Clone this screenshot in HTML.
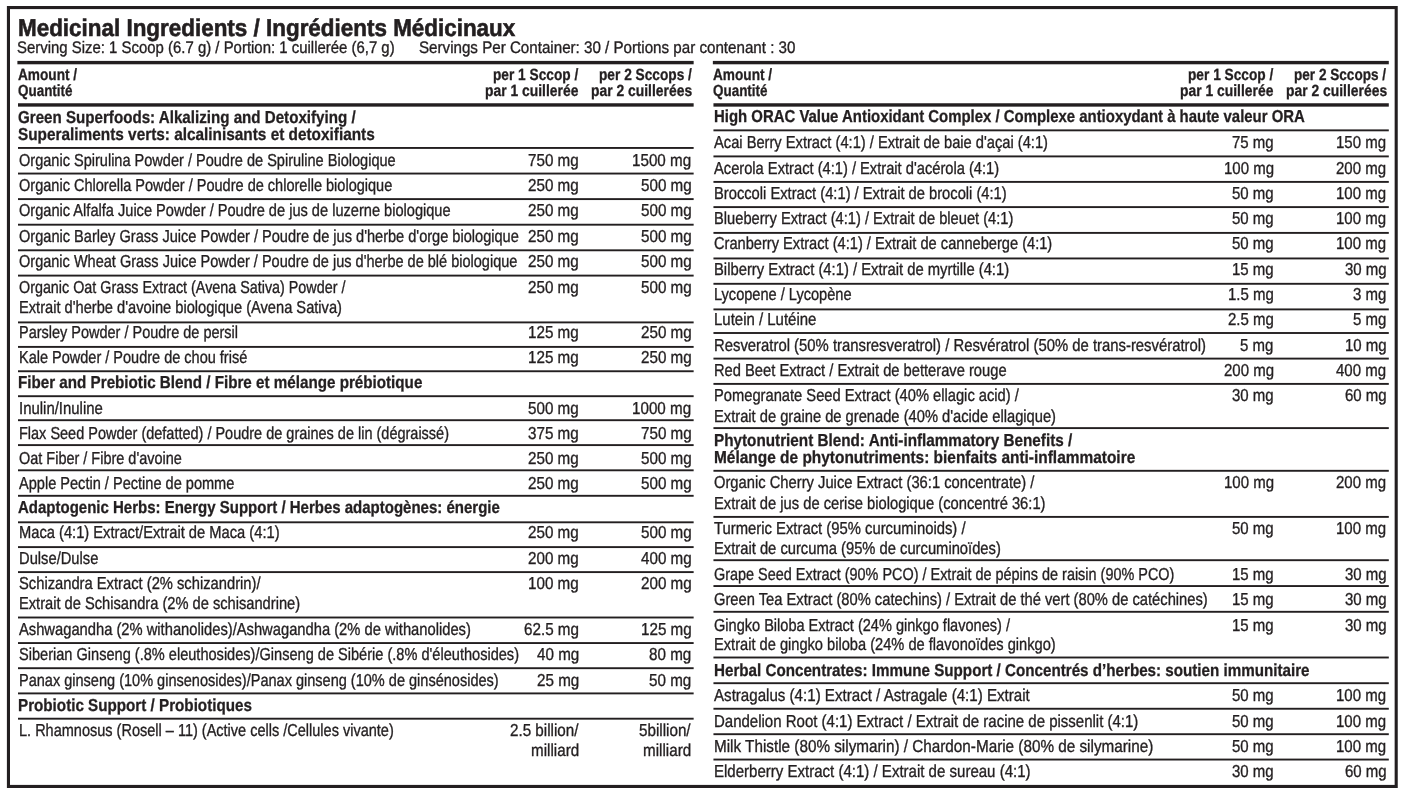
<!DOCTYPE html>
<html lang="en"><head><meta charset="utf-8"><title>Medicinal Ingredients</title>
<style>
html,body{margin:0;padding:0;background:#fff}
#page{position:relative;will-change:transform;width:1406px;height:793px;overflow:hidden;background:#fff;color:#231f20;font-family:"Liberation Sans",sans-serif;text-rendering:geometricPrecision}
.t{position:absolute;white-space:nowrap;line-height:20px;transform-origin:0 0}
#rules{position:absolute;left:0;top:0}
.title{font-size:24.2px;font-weight:700;-webkit-text-stroke:0.6px #231f20}
.serv{font-size:16.7px;font-weight:400;-webkit-text-stroke:0.35px #231f20}
.colh{font-size:16.2px;font-weight:700;-webkit-text-stroke:0.3px #231f20}
.sec{font-size:17.3px;font-weight:700;-webkit-text-stroke:0.3px #231f20}
.reg{font-size:17.3px;font-weight:400;-webkit-text-stroke:0.35px #231f20}
.amt{font-size:17.3px;font-weight:400;-webkit-text-stroke:0.35px #231f20}
</style></head>
<body><div id="page">
<svg id="rules" width="1406" height="793" viewBox="0 0 1406 793" fill="#231f20"><rect x="8.45" y="7.55" width="1387.75" height="778.9" fill="none" stroke="#231f20" stroke-width="3.1"/><rect x="17.40" y="60.90" width="676.25" height="3.40"/><rect x="18.00" y="103.25" width="675.65" height="3.40"/><rect x="18.00" y="147.00" width="675.65" height="1.90"/><rect x="18.00" y="172.60" width="675.65" height="1.90"/><rect x="18.00" y="198.15" width="675.65" height="1.90"/><rect x="18.00" y="223.75" width="675.65" height="1.90"/><rect x="18.00" y="249.35" width="675.65" height="1.90"/><rect x="18.00" y="274.65" width="675.65" height="1.90"/><rect x="18.00" y="321.45" width="675.65" height="1.90"/><rect x="18.00" y="345.95" width="675.65" height="1.90"/><rect x="18.00" y="370.30" width="675.65" height="1.90"/><rect x="18.00" y="395.25" width="675.65" height="1.90"/><rect x="18.00" y="419.25" width="675.65" height="1.90"/><rect x="18.00" y="444.15" width="675.65" height="1.90"/><rect x="18.00" y="469.35" width="675.65" height="1.90"/><rect x="18.00" y="494.85" width="675.65" height="1.90"/><rect x="18.00" y="521.35" width="675.65" height="1.90"/><rect x="18.00" y="546.15" width="675.65" height="1.90"/><rect x="18.00" y="571.15" width="675.65" height="1.90"/><rect x="18.00" y="616.55" width="675.65" height="1.90"/><rect x="18.00" y="642.10" width="675.65" height="1.90"/><rect x="18.00" y="667.25" width="675.65" height="1.90"/><rect x="18.00" y="692.45" width="675.65" height="1.90"/><rect x="18.00" y="717.75" width="675.65" height="1.90"/><rect x="712.85" y="60.90" width="675.95" height="3.40"/><rect x="713.45" y="103.25" width="675.35" height="3.40"/><rect x="713.45" y="129.40" width="675.35" height="1.90"/><rect x="713.45" y="155.45" width="675.35" height="1.90"/><rect x="713.45" y="180.95" width="675.35" height="1.90"/><rect x="713.45" y="206.15" width="675.35" height="1.90"/><rect x="713.45" y="231.95" width="675.35" height="1.90"/><rect x="713.45" y="257.50" width="675.35" height="1.90"/><rect x="713.45" y="282.85" width="675.35" height="1.90"/><rect x="713.45" y="308.45" width="675.35" height="1.90"/><rect x="713.45" y="332.05" width="675.35" height="1.90"/><rect x="713.45" y="357.65" width="675.35" height="1.90"/><rect x="713.45" y="382.95" width="675.35" height="1.90"/><rect x="713.45" y="427.15" width="675.35" height="1.90"/><rect x="713.45" y="469.85" width="675.35" height="1.90"/><rect x="713.45" y="515.95" width="675.35" height="1.90"/><rect x="713.45" y="559.25" width="675.35" height="1.90"/><rect x="713.45" y="585.10" width="675.35" height="1.90"/><rect x="713.45" y="610.85" width="675.35" height="1.90"/><rect x="713.45" y="656.55" width="675.35" height="1.90"/><rect x="713.45" y="682.25" width="675.35" height="1.90"/><rect x="713.45" y="707.80" width="675.35" height="1.90"/><rect x="713.45" y="733.25" width="675.35" height="1.90"/><rect x="713.45" y="758.60" width="675.35" height="1.90"/></svg>
<div class="t title" style="left:18.00px;top:19px;transform:scaleX(0.9273)">Medicinal Ingredients / Ingrédients Médicinaux</div>
<div class="t serv" style="left:16.80px;top:38px;transform:scaleX(0.8948)">Serving Size: 1 Scoop (6.7 g) / Portion: 1 cuillerée (6,7 g)</div>
<div class="t serv" style="left:418.60px;top:38px;transform:scaleX(0.9078)">Servings Per Container: 30 / Portions par contenant : 30</div>
<div class="t colh" style="left:17.50px;top:65px;transform:scaleX(0.8433)">Amount /</div>
<div class="t colh" style="left:17.50px;top:81px;transform:scaleX(0.8300)">Quantité</div>
<div class="t colh" style="left:492.86px;top:65px;transform:scaleX(0.8457)">per 1 Sccop /</div>
<div class="t colh" style="left:485.35px;top:81px;transform:scaleX(0.8578)">par 1 cuillerée</div>
<div class="t colh" style="left:598.76px;top:65px;transform:scaleX(0.8465)">per 2 Sccops /</div>
<div class="t colh" style="left:590.95px;top:81px;transform:scaleX(0.8577)">par 2 cuillerées</div>
<div class="t sec" style="left:18.40px;top:107px;transform:scaleX(0.8761)">Green Superfoods: Alkalizing and Detoxifying /</div>
<div class="t sec" style="left:18.40px;top:124px;transform:scaleX(0.8887)">Superaliments verts: alcalinisants et detoxifiants</div>
<div class="t reg" style="left:18.80px;top:150px;transform:scaleX(0.8414)">Organic Spirulina Powder / Poudre de Spiruline Biologique</div>
<div class="t amt" style="left:528.17px;top:150px;transform:scaleX(0.8800)">750 mg</div>
<div class="t amt" style="left:632.02px;top:150px;transform:scaleX(0.8800)">1500 mg</div>
<div class="t reg" style="left:18.80px;top:175px;transform:scaleX(0.8411)">Organic Chlorella Powder / Poudre de chlorelle biologique</div>
<div class="t amt" style="left:528.17px;top:175px;transform:scaleX(0.8800)">250 mg</div>
<div class="t amt" style="left:640.57px;top:175px;transform:scaleX(0.8800)">500 mg</div>
<div class="t reg" style="left:18.80px;top:200px;transform:scaleX(0.8445)">Organic Alfalfa Juice Powder / Poudre de jus de luzerne biologique</div>
<div class="t amt" style="left:528.17px;top:200px;transform:scaleX(0.8800)">250 mg</div>
<div class="t amt" style="left:640.57px;top:200px;transform:scaleX(0.8800)">500 mg</div>
<div class="t reg" style="left:18.80px;top:226px;transform:scaleX(0.8435)">Organic Barley Grass Juice Powder / Poudre de jus d'herbe d'orge biologique</div>
<div class="t amt" style="left:528.17px;top:226px;transform:scaleX(0.8800)">250 mg</div>
<div class="t amt" style="left:640.57px;top:226px;transform:scaleX(0.8800)">500 mg</div>
<div class="t reg" style="left:18.80px;top:251px;transform:scaleX(0.8403)">Organic Wheat Grass Juice Powder / Poudre de jus d'herbe de blé biologique</div>
<div class="t amt" style="left:528.17px;top:251px;transform:scaleX(0.8800)">250 mg</div>
<div class="t amt" style="left:640.57px;top:251px;transform:scaleX(0.8800)">500 mg</div>
<div class="t reg" style="left:18.80px;top:277px;transform:scaleX(0.8295)">Organic Oat Grass Extract (Avena Sativa) Powder /</div>
<div class="t reg" style="left:18.80px;top:297px;transform:scaleX(0.8478)">Extrait d'herbe d'avoine biologique (Avena Sativa)</div>
<div class="t amt" style="left:528.17px;top:277px;transform:scaleX(0.8800)">250 mg</div>
<div class="t amt" style="left:640.57px;top:277px;transform:scaleX(0.8800)">500 mg</div>
<div class="t reg" style="left:18.80px;top:322px;transform:scaleX(0.8382)">Parsley Powder / Poudre de persil</div>
<div class="t amt" style="left:528.17px;top:322px;transform:scaleX(0.8800)">125 mg</div>
<div class="t amt" style="left:640.57px;top:322px;transform:scaleX(0.8800)">250 mg</div>
<div class="t reg" style="left:18.80px;top:347px;transform:scaleX(0.8396)">Kale Powder / Poudre de chou frisé</div>
<div class="t amt" style="left:528.17px;top:347px;transform:scaleX(0.8800)">125 mg</div>
<div class="t amt" style="left:640.57px;top:347px;transform:scaleX(0.8800)">250 mg</div>
<div class="t sec" style="left:18.40px;top:372px;transform:scaleX(0.8791)">Fiber and Prebiotic Blend / Fibre et mélange prébiotique</div>
<div class="t reg" style="left:18.80px;top:398px;transform:scaleX(0.8643)">Inulin/Inuline</div>
<div class="t amt" style="left:528.17px;top:398px;transform:scaleX(0.8800)">500 mg</div>
<div class="t amt" style="left:632.02px;top:398px;transform:scaleX(0.8800)">1000 mg</div>
<div class="t reg" style="left:18.80px;top:423px;transform:scaleX(0.8382)">Flax Seed Powder (defatted) / Poudre de graines de lin (dégraissé)</div>
<div class="t amt" style="left:528.17px;top:423px;transform:scaleX(0.8800)">375 mg</div>
<div class="t amt" style="left:640.57px;top:423px;transform:scaleX(0.8800)">750 mg</div>
<div class="t reg" style="left:18.80px;top:448px;transform:scaleX(0.8373)">Oat Fiber / Fibre d'avoine</div>
<div class="t amt" style="left:528.17px;top:448px;transform:scaleX(0.8800)">250 mg</div>
<div class="t amt" style="left:640.57px;top:448px;transform:scaleX(0.8800)">500 mg</div>
<div class="t reg" style="left:18.80px;top:473px;transform:scaleX(0.8428)">Apple Pectin / Pectine de pomme</div>
<div class="t amt" style="left:528.17px;top:473px;transform:scaleX(0.8800)">250 mg</div>
<div class="t amt" style="left:640.57px;top:473px;transform:scaleX(0.8800)">500 mg</div>
<div class="t sec" style="left:18.40px;top:497px;transform:scaleX(0.8681)">Adaptogenic Herbs: Energy Support / Herbes adaptogènes: énergie</div>
<div class="t reg" style="left:18.80px;top:522px;transform:scaleX(0.8504)">Maca (4:1) Extract/Extrait de Maca (4:1)</div>
<div class="t amt" style="left:528.17px;top:522px;transform:scaleX(0.8800)">250 mg</div>
<div class="t amt" style="left:640.57px;top:522px;transform:scaleX(0.8800)">500 mg</div>
<div class="t reg" style="left:18.80px;top:548px;transform:scaleX(0.8519)">Dulse/Dulse</div>
<div class="t amt" style="left:528.17px;top:548px;transform:scaleX(0.8800)">200 mg</div>
<div class="t amt" style="left:640.57px;top:548px;transform:scaleX(0.8800)">400 mg</div>
<div class="t reg" style="left:18.80px;top:573px;transform:scaleX(0.8524)">Schizandra Extract (2% schizandrin)/</div>
<div class="t reg" style="left:18.80px;top:593px;transform:scaleX(0.8482)">Extrait de Schisandra (2% de schisandrine)</div>
<div class="t amt" style="left:528.17px;top:573px;transform:scaleX(0.8800)">100 mg</div>
<div class="t amt" style="left:640.57px;top:573px;transform:scaleX(0.8800)">200 mg</div>
<div class="t reg" style="left:18.80px;top:619px;transform:scaleX(0.8521)">Ashwagandha (2% withanolides)/Ashwagandha (2% de withanolides)</div>
<div class="t amt" style="left:524.02px;top:619px;transform:scaleX(0.8800)">62.5 mg</div>
<div class="t amt" style="left:640.57px;top:619px;transform:scaleX(0.8800)">125 mg</div>
<div class="t reg" style="left:18.80px;top:644px;transform:scaleX(0.8430)">Siberian Ginseng (.8% eleuthosides)/Ginseng de Sibérie (.8% d'éleuthosides)</div>
<div class="t amt" style="left:536.66px;top:644px;transform:scaleX(0.8800)">40 mg</div>
<div class="t amt" style="left:649.06px;top:644px;transform:scaleX(0.8800)">80 mg</div>
<div class="t reg" style="left:18.80px;top:670px;transform:scaleX(0.8405)">Panax ginseng (10% ginsenosides)/Panax ginseng (10% de ginsénosides)</div>
<div class="t amt" style="left:536.66px;top:670px;transform:scaleX(0.8800)">25 mg</div>
<div class="t amt" style="left:649.06px;top:670px;transform:scaleX(0.8800)">50 mg</div>
<div class="t sec" style="left:18.40px;top:695px;transform:scaleX(0.8796)">Probiotic Support / Probiotiques</div>
<div class="t reg" style="left:18.80px;top:720px;transform:scaleX(0.8397)">L. Rhamnosus (Rosell – 11) (Active cells /Cellules vivante)</div>
<div class="t amt" style="left:509.62px;top:720px;transform:scaleX(0.8800)">2.5 billion/</div>
<div class="t amt" style="left:530.77px;top:740px;transform:scaleX(0.8800)">milliard</div>
<div class="t amt" style="left:638.92px;top:720px;transform:scaleX(0.8800)">5billion/</div>
<div class="t amt" style="left:643.17px;top:740px;transform:scaleX(0.8800)">milliard</div>
<div class="t colh" style="left:713.00px;top:65px;transform:scaleX(0.8433)">Amount /</div>
<div class="t colh" style="left:713.00px;top:81px;transform:scaleX(0.8300)">Quantité</div>
<div class="t colh" style="left:1188.06px;top:65px;transform:scaleX(0.8467)">per 1 Sccop /</div>
<div class="t colh" style="left:1180.25px;top:81px;transform:scaleX(0.8578)">par 1 cuillerée</div>
<div class="t colh" style="left:1293.67px;top:65px;transform:scaleX(0.8391)">per 2 Sccops /</div>
<div class="t colh" style="left:1285.85px;top:81px;transform:scaleX(0.8577)">par 2 cuillerées</div>
<div class="t sec" style="left:713.90px;top:106px;transform:scaleX(0.8638)">High ORAC Value Antioxidant Complex / Complexe antioxydant à haute valeur ORA</div>
<div class="t reg" style="left:713.50px;top:132px;transform:scaleX(0.8492)">Acai Berry Extract (4:1) / Extrait de baie d'açai (4:1)</div>
<div class="t amt" style="left:1232.12px;top:132px;transform:scaleX(0.8680)">75 mg</div>
<div class="t amt" style="left:1336.25px;top:132px;transform:scaleX(0.8680)">150 mg</div>
<div class="t reg" style="left:713.50px;top:158px;transform:scaleX(0.8497)">Acerola Extract (4:1) / Extrait d'acérola (4:1)</div>
<div class="t amt" style="left:1223.75px;top:158px;transform:scaleX(0.8680)">100 mg</div>
<div class="t amt" style="left:1336.25px;top:158px;transform:scaleX(0.8680)">200 mg</div>
<div class="t reg" style="left:713.50px;top:183px;transform:scaleX(0.8513)">Broccoli Extract (4:1) / Extrait de brocoli (4:1)</div>
<div class="t amt" style="left:1232.12px;top:183px;transform:scaleX(0.8680)">50 mg</div>
<div class="t amt" style="left:1336.25px;top:183px;transform:scaleX(0.8680)">100 mg</div>
<div class="t reg" style="left:713.50px;top:208px;transform:scaleX(0.8493)">Blueberry Extract (4:1) / Extrait de bleuet (4:1)</div>
<div class="t amt" style="left:1232.12px;top:208px;transform:scaleX(0.8680)">50 mg</div>
<div class="t amt" style="left:1336.25px;top:208px;transform:scaleX(0.8680)">100 mg</div>
<div class="t reg" style="left:713.50px;top:233px;transform:scaleX(0.8465)">Cranberry Extract (4:1) / Extrait de canneberge (4:1)</div>
<div class="t amt" style="left:1232.12px;top:233px;transform:scaleX(0.8680)">50 mg</div>
<div class="t amt" style="left:1336.25px;top:233px;transform:scaleX(0.8680)">100 mg</div>
<div class="t reg" style="left:713.50px;top:259px;transform:scaleX(0.8561)">Bilberry Extract (4:1) / Extrait de myrtille (4:1)</div>
<div class="t amt" style="left:1232.12px;top:259px;transform:scaleX(0.8680)">15 mg</div>
<div class="t amt" style="left:1344.62px;top:259px;transform:scaleX(0.8680)">30 mg</div>
<div class="t reg" style="left:713.50px;top:284px;transform:scaleX(0.8437)">Lycopene / Lycopène</div>
<div class="t amt" style="left:1227.94px;top:284px;transform:scaleX(0.8680)">1.5 mg</div>
<div class="t amt" style="left:1352.98px;top:284px;transform:scaleX(0.8680)">3 mg</div>
<div class="t reg" style="left:713.50px;top:309px;transform:scaleX(0.8664)">Lutein / Lutéine</div>
<div class="t amt" style="left:1227.94px;top:309px;transform:scaleX(0.8680)">2.5 mg</div>
<div class="t amt" style="left:1352.98px;top:309px;transform:scaleX(0.8680)">5 mg</div>
<div class="t reg" style="left:713.50px;top:335px;transform:scaleX(0.8596)">Resveratrol (50% transresveratrol) / Resvératrol (50% de trans-resvératrol)</div>
<div class="t amt" style="left:1240.48px;top:335px;transform:scaleX(0.8680)">5 mg</div>
<div class="t amt" style="left:1344.62px;top:335px;transform:scaleX(0.8680)">10 mg</div>
<div class="t reg" style="left:713.50px;top:360px;transform:scaleX(0.8508)">Red Beet Extract / Extrait de betterave rouge</div>
<div class="t amt" style="left:1223.75px;top:360px;transform:scaleX(0.8680)">200 mg</div>
<div class="t amt" style="left:1336.25px;top:360px;transform:scaleX(0.8680)">400 mg</div>
<div class="t reg" style="left:713.50px;top:385px;transform:scaleX(0.8509)">Pomegranate Seed Extract (40% ellagic acid) /</div>
<div class="t reg" style="left:713.50px;top:406px;transform:scaleX(0.8508)">Extrait de graine de grenade (40% d'acide ellagique)</div>
<div class="t amt" style="left:1232.12px;top:385px;transform:scaleX(0.8680)">30 mg</div>
<div class="t amt" style="left:1344.62px;top:385px;transform:scaleX(0.8680)">60 mg</div>
<div class="t sec" style="left:713.90px;top:430px;transform:scaleX(0.8834)">Phytonutrient Blend: Anti-inflammatory Benefits /</div>
<div class="t sec" style="left:713.90px;top:447px;transform:scaleX(0.8935)">Mélange de phytonutriments: bienfaits anti-inflammatoire</div>
<div class="t reg" style="left:713.50px;top:472px;transform:scaleX(0.8530)">Organic Cherry Juice Extract (36:1 concentrate) /</div>
<div class="t reg" style="left:713.50px;top:493px;transform:scaleX(0.8520)">Extrait de jus de cerise biologique (concentré 36:1)</div>
<div class="t amt" style="left:1223.75px;top:472px;transform:scaleX(0.8680)">100 mg</div>
<div class="t amt" style="left:1336.25px;top:472px;transform:scaleX(0.8680)">200 mg</div>
<div class="t reg" style="left:713.50px;top:518px;transform:scaleX(0.8578)">Turmeric Extract (95% curcuminoids) /</div>
<div class="t reg" style="left:713.50px;top:538px;transform:scaleX(0.8533)">Extrait de curcuma (95% de curcuminoïdes)</div>
<div class="t amt" style="left:1232.12px;top:518px;transform:scaleX(0.8680)">50 mg</div>
<div class="t amt" style="left:1336.25px;top:518px;transform:scaleX(0.8680)">100 mg</div>
<div class="t reg" style="left:713.50px;top:564px;transform:scaleX(0.8350)">Grape Seed Extract (90% PCO) / Extrait de pépins de raisin (90% PCO)</div>
<div class="t amt" style="left:1232.12px;top:564px;transform:scaleX(0.8680)">15 mg</div>
<div class="t amt" style="left:1344.62px;top:564px;transform:scaleX(0.8680)">30 mg</div>
<div class="t reg" style="left:713.50px;top:589px;transform:scaleX(0.8515)">Green Tea Extract (80% catechins) / Extrait de thé vert (80% de catéchines)</div>
<div class="t amt" style="left:1232.12px;top:589px;transform:scaleX(0.8680)">15 mg</div>
<div class="t amt" style="left:1344.62px;top:589px;transform:scaleX(0.8680)">30 mg</div>
<div class="t reg" style="left:713.50px;top:615px;transform:scaleX(0.8418)">Gingko Biloba Extract (24% ginkgo flavones) /</div>
<div class="t reg" style="left:713.50px;top:634px;transform:scaleX(0.8468)">Extrait de gingko biloba (24% de flavonoïdes ginkgo)</div>
<div class="t amt" style="left:1232.12px;top:615px;transform:scaleX(0.8680)">15 mg</div>
<div class="t amt" style="left:1344.62px;top:615px;transform:scaleX(0.8680)">30 mg</div>
<div class="t sec" style="left:713.90px;top:660px;transform:scaleX(0.8785)">Herbal Concentrates: Immune Support / Concentrés d’herbes: soutien immunitaire</div>
<div class="t reg" style="left:713.50px;top:685px;transform:scaleX(0.8744)">Astragalus (4:1) Extract / Astragale (4:1) Extrait</div>
<div class="t amt" style="left:1232.12px;top:685px;transform:scaleX(0.8680)">50 mg</div>
<div class="t amt" style="left:1336.25px;top:685px;transform:scaleX(0.8680)">100 mg</div>
<div class="t reg" style="left:713.50px;top:711px;transform:scaleX(0.8680)">Dandelion Root (4:1) Extract / Extrait de racine de pissenlit (4:1)</div>
<div class="t amt" style="left:1232.12px;top:711px;transform:scaleX(0.8680)">50 mg</div>
<div class="t amt" style="left:1336.25px;top:711px;transform:scaleX(0.8680)">100 mg</div>
<div class="t reg" style="left:713.50px;top:736px;transform:scaleX(0.8836)">Milk Thistle (80% silymarin) / Chardon-Marie (80% de silymarine)</div>
<div class="t amt" style="left:1232.12px;top:736px;transform:scaleX(0.8680)">50 mg</div>
<div class="t amt" style="left:1336.25px;top:736px;transform:scaleX(0.8680)">100 mg</div>
<div class="t reg" style="left:713.50px;top:761px;transform:scaleX(0.8696)">Elderberry Extract (4:1) / Extrait de sureau (4:1)</div>
<div class="t amt" style="left:1232.12px;top:761px;transform:scaleX(0.8680)">30 mg</div>
<div class="t amt" style="left:1344.62px;top:761px;transform:scaleX(0.8680)">60 mg</div>
</div></body></html>
